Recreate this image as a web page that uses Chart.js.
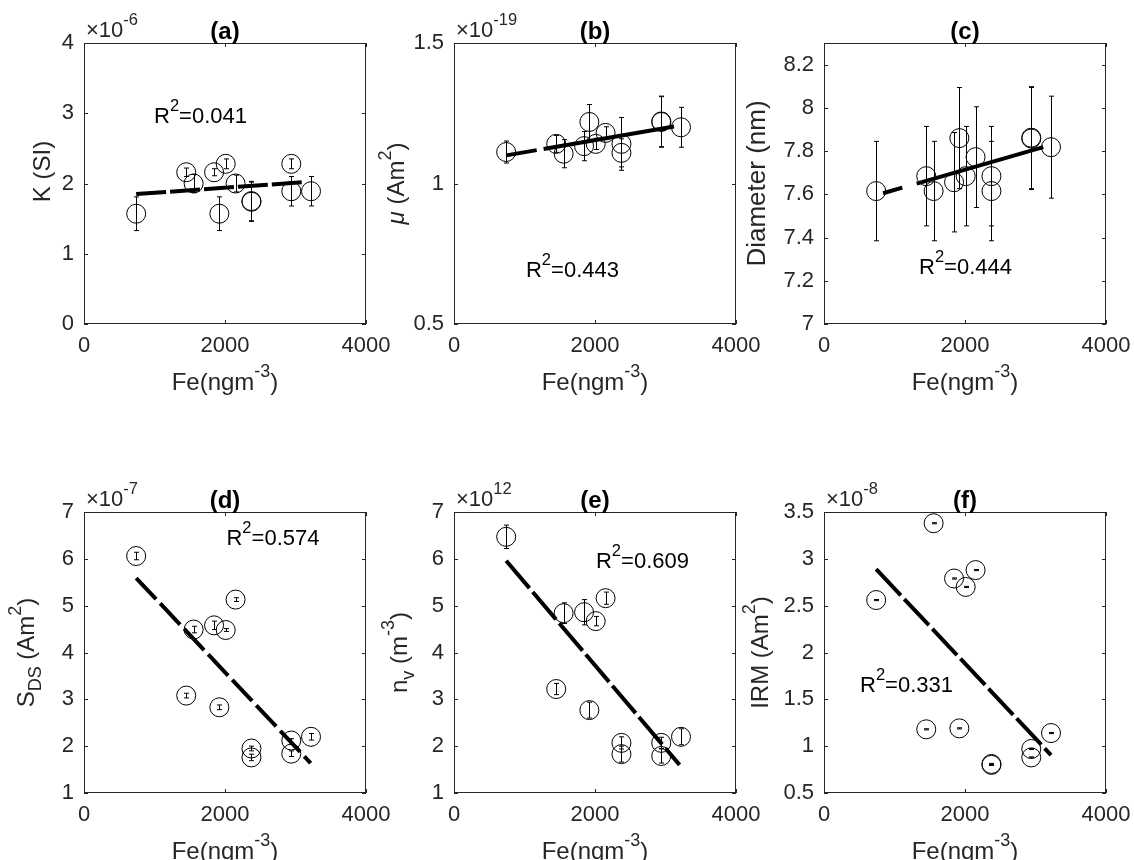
<!DOCTYPE html>
<html>
<head>
<meta charset="utf-8">
<script src="https://cdn.jsdelivr.net/npm/chart.js@4.4.0/dist/chart.umd.min.js"></script>
<style>
  body { margin: 0; background: #fff; }
  #wrap { position: relative; width: 1134px; height: 860px; overflow: hidden; background: #fff; }
  #wrap canvas { position: absolute; }
</style>
</head>
<body>
<div id="wrap"></div>
<script>
// Fe concentration (ng m^-3), same samples in every panel
const feX = [740, 1450, 1555, 1845, 1920, 2010, 2150, 2375, 2375, 2940, 2940, 3220];
const feTicks = [0, 2000, 4000];

// (a) susceptibility K, x1e-6 SI
const kVal = [1.57, 2.16, 2.00, 2.16, 1.57, 2.28, 2.00, 1.74, 1.75, 2.28, 1.89, 1.89];
const kErr = [0.24, 0.06, 0.13, 0.05, 0.24, 0.07, 0.12, 0.28, 0.28, 0.07, 0.21, 0.21];
const kTicks = [0, 1, 2, 3, 4];
const kFitX = [740, 3130];
const kFitY = [1.85, 2.02];

// (b) magnetic moment mu, x1e-19 Am2
const muVal = [1.112, 1.141, 1.106, 1.133, 1.219, 1.141, 1.180, 1.141, 1.109, 1.221, 1.219, 1.200];
const muErr = [0.039, 0.030, 0.050, 0.052, 0.062, 0.020, 0.022, 0.094, 0.050, 0.090, 0.090, 0.071];
const muTicks = [0.5, 1, 1.5];
const muFitX = [740, 3120];
const muFitY = [1.100, 1.203];

// (c) particle diameter, nm
const diaVal = [7.615, 7.684, 7.615, 7.656, 7.860, 7.684, 7.772, 7.684, 7.615, 7.862, 7.858, 7.818];
const diaErr = [0.23, 0.23, 0.23, 0.23, 0.234, 0.23, 0.233, 0.23, 0.23, 0.236, 0.236, 0.236];
const diaTicks = [7, 7.2, 7.4, 7.6, 7.8, 8, 8.2];
const diaFitX = [838, 3110];
const diaFitY = [7.605, 7.818];

// (d) S_DS, x1e-7 Am2
const sdsVal = [6.06, 3.08, 4.49, 4.58, 2.83, 4.48, 5.13, 1.95, 1.76, 2.12, 1.84, 2.20];
const sdsErr = [0.08, 0.05, 0.07, 0.09, 0.05, 0.03, 0.04, 0.05, 0.07, 0.04, 0.06, 0.07];
const sdsTicks = [1, 2, 3, 4, 5, 6, 7];
const sdsFitX = [740, 3215];
const sdsFitY = [5.59, 1.64];

// (e) n_v, x1e12 m^-3
const nvVal = [6.47, 3.22, 4.84, 4.86, 2.77, 4.67, 5.16, 2.07, 1.83, 2.07, 1.79, 2.20];
const nvErr = [0.25, 0.12, 0.22, 0.27, 0.17, 0.10, 0.13, 0.13, 0.17, 0.12, 0.15, 0.17];
const nvTicks = [1, 2, 3, 4, 5, 6, 7];
const nvFitX = [740, 3200];
const nvFitY = [5.96, 1.60];

// (f) IRM, x1e-8 Am2
const irmVal = [2.56, 1.18, 3.38, 2.79, 1.19, 2.70, 2.88, 0.81, 0.80, 0.97, 0.88, 1.14];
const irmErr = [0.006, 0.006, 0.006, 0.006, 0.006, 0.006, 0.006, 0.006, 0.006, 0.006, 0.006, 0.006];
const irmTicks = [0.5, 1, 1.5, 2, 2.5, 3, 3.5];
const irmFitX = [740, 3220];
const irmFitY = [2.89, 0.905];

const r2Text = ['0.041', '0.443', '0.444', '0.574', '0.609', '0.331'];

const FAM = "'Liberation Sans', Arial, Helvetica, sans-serif";
const INK = '#262626';

// draws text made of parts, with sup/sub script pieces
function drawRich(ctx, parts, x, y, size, align, weight) {
  const fontOf = (p) => {
    const s = (p.sup || p.sub) ? size * 0.75 : size;
    return (p.it ? 'italic ' : '') + (weight || 'normal') + ' ' + s + 'px ' + FAM;
  };
  let w = 0;
  const widths = parts.map(p => { ctx.font = fontOf(p); const m = ctx.measureText(p.t).width; w += m; return m; });
  let cx = align === 'center' ? x - w / 2 : x;
  ctx.textAlign = 'left';
  ctx.textBaseline = 'alphabetic';
  parts.forEach((p, i) => {
    ctx.font = fontOf(p);
    const dy = p.sup ? -size * 0.55 : (p.sub ? size * 0.28 : 0);
    ctx.fillText(p.t, cx, y + dy);
    cx += widths[i];
  });
}

const xTitle = [{t: 'Fe(ngm'}, {t: '-3', sup: true}, {t: ')'}];

const panels = [
  {tag: '(a)', left: 0, top: 0, vals: kVal, errs: kErr, ticks: kTicks, min: 0, max: 4,
   fitX: kFitX, fitY: kFitY, r2: r2Text[0], r2At: [993, 2.86], exp: '-6', dash: [30, 4],
   yTitle: [{t: 'K (SI)'}], yOff: 34, yShift: -12, ySize: 24},
  {tag: '(b)', left: 370, top: 0, vals: muVal, errs: muErr, ticks: muTicks, min: 0.5, max: 1.5,
   fitX: muFitX, fitY: muFitY, r2: r2Text[1], r2At: [1021, 0.666], exp: '-19', dash: [31, 7, 600, 0],
   yTitle: [{t: 'μ', it: true}, {t: ' (Am'}, {t: '2', sup: true}, {t: ')'}], yOff: 50, yShift: 0, ySize: 24},
  {tag: '(c)', left: 740, top: 0, vals: diaVal, errs: diaErr, ticks: diaTicks, min: 7, max: 8.3,
   fitX: diaFitX, fitY: diaFitY, r2: r2Text[2], r2At: [1348, 7.232], exp: null, dash: [20, 15, 600, 0],
   yTitle: [{t: 'Diameter (nm)'}], yOff: 59, yShift: 0, ySize: 26},
  {tag: '(d)', left: 0, top: 469, vals: sdsVal, errs: sdsErr, ticks: sdsTicks, min: 1, max: 7,
   fitX: sdsFitX, fitY: sdsFitY, r2: r2Text[3], r2At: [2021, 6.295], exp: '-7', dash: [29, 6],
   yTitle: [{t: 'S'}, {t: 'DS', sub: true}, {t: ' (Am'}, {t: '2', sup: true}, {t: ')'}], yOff: 50, yShift: 0, ySize: 24},
  {tag: '(e)', left: 370, top: 469, vals: nvVal, errs: nvErr, ticks: nvTicks, min: 1, max: 7,
   fitX: nvFitX, fitY: nvFitY, r2: r2Text[4], r2At: [2014, 5.80], exp: '12', dash: [36, 5],
   yTitle: [{t: 'n'}, {t: 'v', sub: true}, {t: ' (m'}, {t: '-3', sup: true}, {t: ')'}], yOff: 47, yShift: 0, ySize: 24},
  {tag: '(f)', left: 740, top: 469, vals: irmVal, errs: irmErr, ticks: irmTicks, min: 0.5, max: 3.5,
   fitX: irmFitX, fitY: irmFitY, r2: r2Text[5], r2At: [511, 1.58], exp: '-8', dash: [36, 5],
   yTitle: [{t: 'IRM (Am'}, {t: '2', sup: true}, {t: ')'}], yOff: 56, yShift: 0, ySize: 24}
];

function makeFrame(p) {
  return {
    id: 'frame',
    beforeDatasetsDraw(chart) {
      const ctx = chart.ctx, xs = chart.scales.x, ys = chart.scales.y;
      ctx.save();
      ctx.strokeStyle = '#000';
      ctx.lineWidth = 1;
      p.vals.forEach((v, i) => {
        const px = Math.round(xs.getPixelForValue(feX[i])) + 0.5;
        const y1 = ys.getPixelForValue(v + p.errs[i]);
        const y2 = ys.getPixelForValue(v - p.errs[i]);
        ctx.beginPath();
        ctx.moveTo(px, y1); ctx.lineTo(px, y2);
        ctx.moveTo(px - 2.5, y1); ctx.lineTo(px + 2.5, y1);
        ctx.moveTo(px - 2.5, y2); ctx.lineTo(px + 2.5, y2);
        ctx.stroke();
      });
      ctx.restore();
    },
    afterDraw(chart) {
      const ctx = chart.ctx, a = chart.chartArea, xs = chart.scales.x, ys = chart.scales.y;
      ctx.save();
      // box and inward ticks
      ctx.strokeStyle = INK;
      ctx.lineWidth = 1;
      ctx.strokeRect(Math.round(a.left) + 0.5, Math.round(a.top) + 0.5,
                     Math.round(a.right - a.left) - 1, Math.round(a.bottom - a.top) - 1);
      ctx.beginPath();
      p.ticks.forEach(t => {
        const py = Math.round(ys.getPixelForValue(t)) + 0.5;
        ctx.moveTo(a.left, py); ctx.lineTo(a.left + 4, py);
        ctx.moveTo(a.right, py); ctx.lineTo(a.right - 4, py);
      });
      feTicks.forEach(t => {
        const px = Math.round(xs.getPixelForValue(t)) + 0.5;
        ctx.moveTo(px, a.bottom); ctx.lineTo(px, a.bottom - 4);
        ctx.moveTo(px, a.top); ctx.lineTo(px, a.top + 4);
      });
      ctx.stroke();

      ctx.fillStyle = '#000';
      // panel tag
      drawRich(ctx, [{t: p.tag}], (a.left + a.right) / 2, a.top - 4, 24, 'center', 'bold');
      // exponent
      ctx.fillStyle = INK;
      if (p.exp) drawRich(ctx, [{t: '×10'}, {t: p.exp, sup: true}], a.left + 2, a.top - 6, 22, 'left');
      // x title
      drawRich(ctx, xTitle, (a.left + a.right) / 2, a.bottom + 66, 24, 'center');
      // y title
      ctx.save();
      ctx.translate(a.left - p.yOff, (a.top + a.bottom) / 2 + p.yShift);
      ctx.rotate(-Math.PI / 2);
      drawRich(ctx, p.yTitle, 0, 0, p.ySize, 'center');
      ctx.restore();
      // R^2 note
      ctx.fillStyle = '#000';
      drawRich(ctx, [{t: 'R'}, {t: '2', sup: true}, {t: '=' + p.r2}],
               xs.getPixelForValue(p.r2At[0]), ys.getPixelForValue(p.r2At[1]), 22, 'left');
      ctx.restore();
    }
  };
}

const wrap = document.getElementById('wrap');
panels.forEach(p => {
  const cv = document.createElement('canvas');
  cv.width = 420; cv.height = 400;
  cv.style.left = p.left + 'px';
  cv.style.top = p.top + 'px';
  wrap.appendChild(cv);

  const tickFont = {family: FAM, size: 22};
  new Chart(cv.getContext('2d'), {
    type: 'scatter',
    data: {
      datasets: [{
        data: feX.map((x, i) => ({x: x, y: p.vals[i]})),
        pointStyle: 'circle',
        pointRadius: 9.5,
        pointBorderWidth: 1,
        pointBorderColor: '#000',
        pointBackgroundColor: 'rgba(0,0,0,0)',
        showLine: false
      }, {
        type: 'line',
        data: p.fitX.map((x, i) => ({x: x, y: p.fitY[i]})),
        borderColor: '#000',
        borderWidth: 4,
        borderDash: p.dash,
        borderCapStyle: 'butt',
        pointRadius: 0,
        fill: false
      }]
    },
    options: {
      responsive: false,
      animation: false,
      events: [],
      layout: {padding: {left: 34, top: 43, right: 54, bottom: 36}},
      plugins: {legend: {display: false}, tooltip: {enabled: false}},
      scales: {
        x: {
          type: 'linear', min: 0, max: 4000,
          afterBuildTicks: s => { s.ticks = feTicks.map(v => ({value: v})); },
          afterFit: s => { s.height = 40; },
          grid: {display: false, drawTicks: false},
          border: {display: false},
          ticks: {font: tickFont, color: INK, padding: 9, maxRotation: 0, autoSkip: false,
                  callback: v => String(v)}
        },
        y: {
          type: 'linear', min: p.min, max: p.max,
          afterBuildTicks: s => { s.ticks = p.ticks.map(v => ({value: v})); },
          afterFit: s => { s.width = 50; },
          grid: {display: false, drawTicks: false},
          border: {display: false},
          ticks: {font: tickFont, color: INK, padding: 10, autoSkip: false,
                  callback: v => String(v)}
        }
      }
    },
    plugins: [makeFrame(p)]
  });
});
</script>
</body>
</html>
